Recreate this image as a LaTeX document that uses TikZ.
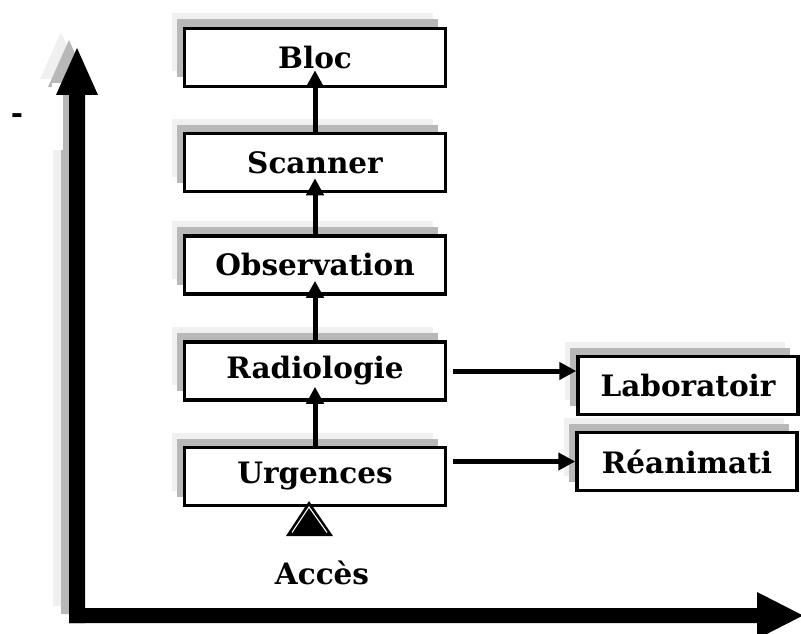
\documentclass[tikz,border=0pt]{standalone}
\usepackage{fontspec}
\setmainfont{DejaVu Serif}
\usetikzlibrary{arrows.meta,shadows}
\tikzset{
  box/.style={draw, line width=3.5pt, fill=white, minimum width=261, minimum height=58,
    inner sep=0pt, font=\fontsize{29.5}{34}\selectfont\bfseries,
    general shadow={shadow xshift=-13pt, shadow yshift=15pt, fill=black!6, draw=none},
    general shadow={shadow xshift=-8pt, shadow yshift=9pt, fill=black!28, draw=none}},
  sidebox/.style={box, minimum width=220},
  flow/.style={line width=5pt, -{Triangle[length=17pt,width=17pt]}},
  lbl/.style={font=\fontsize{29.5}{34}\selectfont\bfseries, inner sep=0pt}
}
\begin{document}
\begin{tikzpicture}[x=1pt,y=-1pt]
\useasboundingbox (0,0) rectangle (801,634);
% vertical axis with shadows
\foreach \dx/\col in {-16/black!6,-8/black!28}{
  \fill[\col,shift={(\dx,\dx)}] (69,622) -- (69,95) -- (56,95) -- (77,48) -- (98,95) -- (85,95) -- (85,622) -- cycle;
}
\fill[white] (52,83) rectangle (63,150);
\fill[black] (69,623) -- (69,95) -- (56,95) -- (77,48) -- (98,95) -- (85,95) -- (85,623) -- cycle;
% horizontal axis
\fill[black] (69,608) -- (757,608) -- (757,592) -- (803,615.5) -- (757,639) -- (757,623) -- (69,623) -- cycle;
\node[lbl] (dash) at (17,119) {-};
% boxes
\node[box] (bloc) at (315,57.5) {Bloc};
\node[box] (scan) at (315,162.5) {Scanner};
\node[box] (obs) at (315,265) {Observation};
\node[box] (rad) at (315,371) {Radiologie};
\node[box] (urg) at (315,476.5) {Urgences};
\node[sidebox] (lab) at (688,385.5) {Laboratoir};
\node[sidebox] (rea) at (687,461.5) {Réanimati};
% vertical flow
\draw[flow] (urg.north) -- ([yshift=15pt]rad.south);
\draw[flow] (rad.north) -- ([yshift=15pt]obs.south);
\draw[flow] (obs.north) -- ([yshift=15pt]scan.south);
\draw[flow] (scan.north) -- ([yshift=18pt]bloc.south);
% horizontal flow
\draw[flow] ([xshift=6pt]rad.east) -- (rad.east -| lab.west);
\draw[flow] ([xshift=6pt]urg.east |- rea.west) -- (rea.west);
% Acces
\node[lbl] (acces) at (322,573) {Accès};
\coordinate (tip) at (309,501);
\fill[black] (286,536) -- (tip) -- (333,536) -- cycle;
\draw[white, line width=1.1pt] (292,532.5) -- (309,507) -- (327,532.5);
\end{tikzpicture}
\end{document}
